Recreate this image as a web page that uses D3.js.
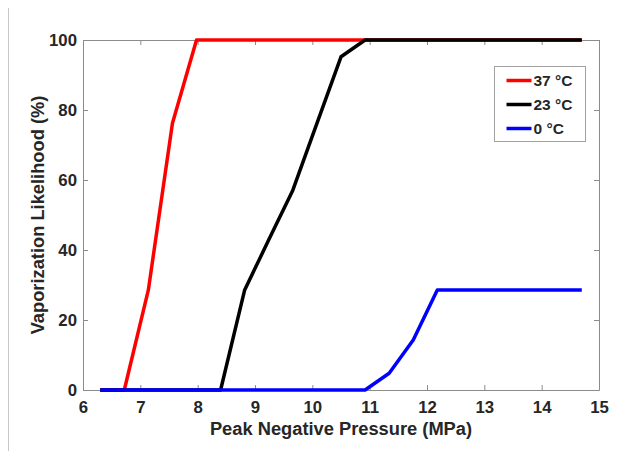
<!DOCTYPE html>
<html>
<head>
<meta charset="utf-8">
<script src="https://cdn.jsdelivr.net/npm/d3@7"></script>
<style>
  html, body { margin: 0; padding: 0; background: #fff; }
  svg { display: block; font-family: Arial, "Liberation Sans", sans-serif; }
</style>
</head>
<body>
<div id="chart"></div>
<script>
// pressure steps (MPa) shared by all three curves
const pressure = [6.3, 6.72, 7.14, 7.56, 7.98, 8.4, 8.82, 9.24, 9.66, 10.08, 10.5,
                  10.92, 11.34, 11.76, 12.18, 12.6, 13.02, 13.44, 13.86, 14.28, 14.7];

const like37 = [0, 0, 28.6, 76.2, 100, 100, 100, 100, 100, 100, 100,
                100, 100, 100, 100, 100, 100, 100, 100, 100, 100];
const like23 = [0, 0, 0, 0, 0, 0, 28.6, 42.9, 57.1, 76.2, 95.2,
                100, 100, 100, 100, 100, 100, 100, 100, 100, 100];
const like0  = [0, 0, 0, 0, 0, 0, 0, 0, 0, 0, 0,
                0, 4.8, 14.3, 28.6, 28.6, 28.6, 28.6, 28.6, 28.6, 28.6];

const seriesNames  = ['37 °C', '23 °C', '0 °C'];
const seriesValues = [like37, like23, like0];
const seriesColors = ['#ff0000', '#000000', '#0000ff'];

const xTicks = [6, 7, 8, 9, 10, 11, 12, 13, 14, 15];
const yTicks = [0, 20, 40, 60, 80, 100];

const W = 632, H = 451;
const margin = { top: 40, right: 33, bottom: 61, left: 83 };
const iw = W - margin.left - margin.right;
const ih = H - margin.top - margin.bottom;

const textColor = '#262626';
const axisColor = '#8c8c8c';

const svg = d3.select('#chart').append('svg')
  .attr('width', W).attr('height', H);

// stray border line at the left edge of the picture
svg.append('line')
  .attr('x1', 8.5).attr('x2', 8.5).attr('y1', 8).attr('y2', H)
  .attr('stroke', '#c8c8c8').attr('stroke-width', 1);

const g = svg.append('g').attr('transform', `translate(${margin.left},${margin.top})`);

const x = d3.scaleLinear().domain([6, 15]).range([0, iw]);
const y = d3.scaleLinear().domain([0, 100]).range([ih, 0]);

// ── Axes (matlab style box, ticks pointing inward) ───────────────────────
const tickLen = 5;
const styleAxis = sel => {
  sel.select('.domain').attr('stroke', axisColor).attr('stroke-width', 1);
  sel.selectAll('.tick line').attr('stroke', axisColor);
  sel.selectAll('.tick text')
    .attr('fill', textColor)
    .style('font-size', '16.8px')
    .style('font-weight', 'bold');
};

g.append('g')
  .attr('transform', `translate(0,${ih})`)
  .call(d3.axisBottom(x).tickValues(xTicks).tickFormat(d3.format('d'))
    .tickSizeInner(-tickLen).tickSizeOuter(0).tickPadding(11.5))
  .call(styleAxis);

g.append('g')
  .call(d3.axisTop(x).tickValues(xTicks).tickFormat('')
    .tickSizeInner(-tickLen).tickSizeOuter(0))
  .call(styleAxis);

g.append('g')
  .call(d3.axisLeft(y).tickValues(yTicks).tickFormat(d3.format('d'))
    .tickSizeInner(-tickLen).tickSizeOuter(0).tickPadding(6))
  .call(styleAxis);

g.append('g')
  .attr('transform', `translate(${iw},0)`)
  .call(d3.axisRight(y).tickValues(yTicks).tickFormat('')
    .tickSizeInner(-tickLen).tickSizeOuter(0))
  .call(styleAxis);

// ── Curves ───────────────────────────────────────────────────────────────
const line = d3.line()
  .x((d, i) => x(pressure[i]))
  .y(d => y(d));

// draw blue last so it sits on top of the shared zero baseline
seriesValues.forEach((vals, k) => {
  g.append('path')
    .datum(vals)
    .attr('fill', 'none')
    .attr('stroke', seriesColors[k])
    .attr('stroke-width', 3.5)
    .attr('stroke-linejoin', 'round')
    .attr('d', line);
});

// ── Axis labels ──────────────────────────────────────────────────────────
svg.append('text')
  .attr('x', 341).attr('y', 435)
  .attr('text-anchor', 'middle')
  .attr('fill', textColor)
  .style('font-size', '18.3px').style('font-weight', 'bold')
  .text('Peak Negative Pressure (MPa)');

svg.append('text')
  .attr('transform', `translate(43.5,${margin.top + ih / 2}) rotate(-90)`)
  .attr('text-anchor', 'middle')
  .attr('fill', textColor)
  .style('font-size', '18.3px').style('font-weight', 'bold')
  .text('Vaporization Likelihood (%)');

// ── Legend ───────────────────────────────────────────────────────────────
const legend = svg.append('g').attr('transform', 'translate(494.5,66.5)');
legend.append('rect')
  .attr('width', 91).attr('height', 75)
  .attr('fill', '#fff').attr('stroke', '#a0a0a0').attr('stroke-width', 1);

seriesNames.forEach((name, k) => {
  const row = legend.append('g').attr('transform', `translate(0,${14 + k * 24})`);
  row.append('line')
    .attr('x1', 12).attr('x2', 37)
    .attr('stroke', seriesColors[k]).attr('stroke-width', 3.5);
  row.append('text')
    .attr('x', 39).attr('dy', '0.36em')
    .attr('fill', textColor)
    .style('font-size', '15.5px').style('font-weight', 'bold')
    .text(name);
});
</script>
</body>
</html>
